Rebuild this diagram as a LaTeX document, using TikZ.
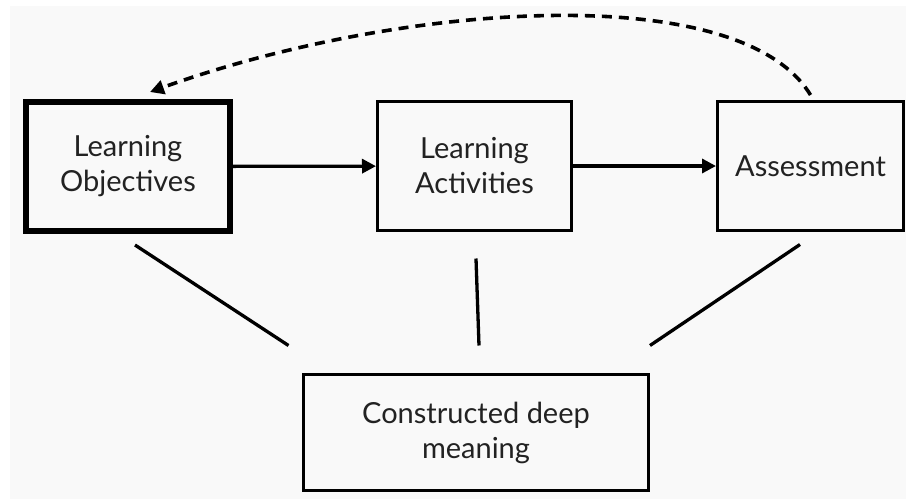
\documentclass[tikz,border=0pt]{standalone}
\usepackage{fontspec}
\setmainfont{Lato}
\usetikzlibrary{arrows.meta}
\definecolor{paper}{HTML}{F9F9F9}
\definecolor{ink}{HTML}{222222}
\tikzset{>={Triangle[length=14pt,width=14pt]}}
\tikzset{
	box/.style={draw=black, line width=3pt, align=center, text=ink,
			font=\fontsize{29}{35}\selectfont, inner sep=0pt},
	link/.style={line width=3.3pt}
}

\begin{document}
\begin{tikzpicture}[x=1pt,y=-1pt]
		\useasboundingbox (0,0) rectangle (906,499);
		\fill[white] (0,0) rectangle (906,499);
		\fill[paper] (10,6) rectangle (906,499);

		\node[box, line width=6pt, minimum width=204pt, minimum height=129pt] (lo) at (128,166.5) {Learning\\Objectives};
		\node[box, minimum width=194pt, minimum height=129pt] (la) at (474.5,166) {Learning\\Activities};
		\node[box, minimum width=186pt, minimum height=129pt] (as) at (810.5,166) {Assessment};
		\node[box, minimum width=345pt, minimum height=116pt] (cdm) at (476,432.5) {Constructed deep\\meaning};

		\draw[link,->] (lo) -- (la);
		\draw[link,->] (la) -- (as);

		\draw[link] ([shift={(7,11)}]lo.south) -- ([shift={(-13.5,-27.5)}]cdm.north west);
		\draw[link] ([shift={(1.5,26.5)}]la.south) -- ([shift={(3,-27.5)}]cdm.north);
		\draw[link] ([shift={(-10.5,12.5)}]as.south) -- ([shift={(0,-27.5)}]cdm.north east);

		\draw[link, line width=3.6pt, dash pattern=on 10pt off 7pt, ->] ([shift={(0,-5)}]as.north)
			.. controls +(-70.5,-116.5) and +(250,-90) .. ([shift={(22,-7)}]lo.north);

	\end{tikzpicture}
\end{document}
